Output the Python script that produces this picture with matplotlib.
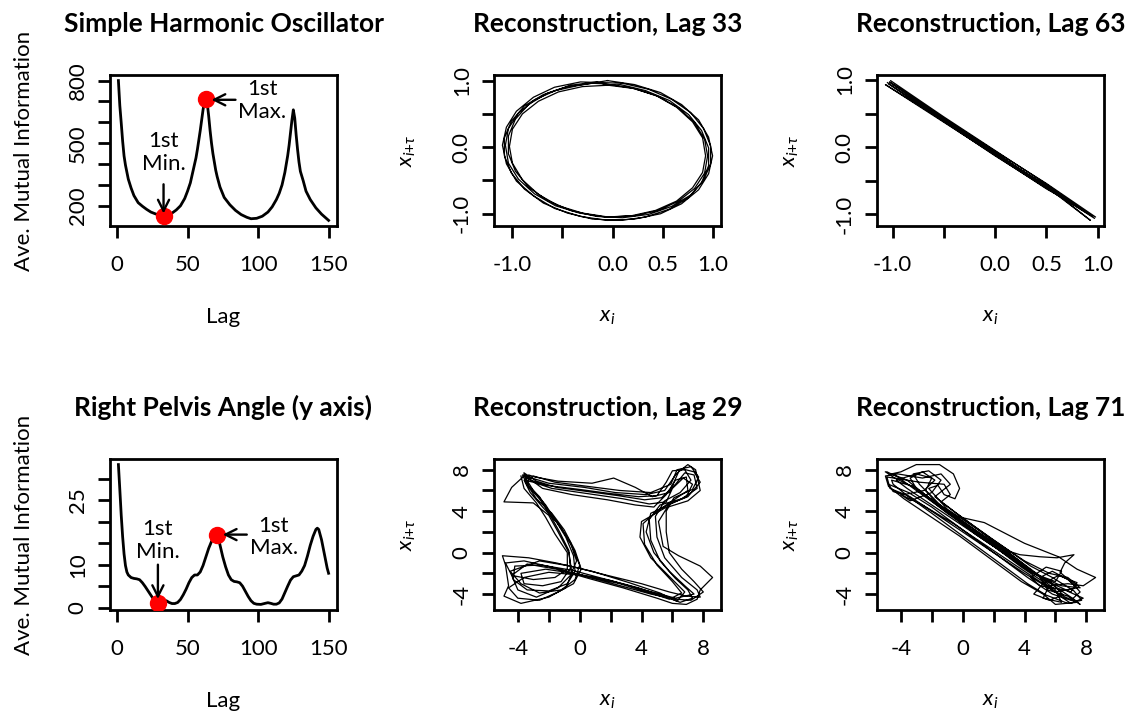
"""Average mutual information and delay reconstructions (SHO vs. pelvis angle)."""

import matplotlib

matplotlib.use("Agg")
import matplotlib.pyplot as plt
import numpy as np

plt.rcParams["font.family"] = ["Lato", "DejaVu Sans"]
plt.rcParams["mathtext.fontset"] = "custom"
plt.rcParams["mathtext.rm"] = "Lato"
plt.rcParams["mathtext.it"] = "Lato:italic"
plt.rcParams["mathtext.bf"] = "Lato:bold"

# ---- AMI curves -------------------------------------------------------------
sho_lag = [1, 2, 3, 4, 5, 6, 8, 10, 12, 15, 18, 21, 24, 27, 30, 33, 36, 39, 42, 45,
           48, 50, 52, 54, 56, 57, 58, 59, 60, 61, 62, 63, 64, 65, 66, 67, 68, 69, 70, 71,
           73, 76, 80, 84, 88, 92, 95, 99, 103, 107, 110, 113, 115, 117, 119, 120, 121, 122, 123, 124,
           125, 126, 127, 128, 129, 130, 132, 134, 137, 141, 145, 150]
sho_ami = [800, 680, 597, 510, 439, 395, 328, 285, 249, 215, 198, 183, 170, 162, 155, 151, 155, 165, 180, 200,
           235, 270, 310, 370, 430, 470, 515, 560, 610, 660, 700, 710, 690, 630, 560, 500, 450, 410, 370, 340,
           290, 240, 205, 178, 158, 145, 138, 140, 150, 170, 195, 230, 260, 300, 360, 400, 440, 490, 550, 610,
           660, 620, 540, 470, 410, 365, 320, 270, 230, 190, 160, 130]

pelvis_lag = [1, 2, 3, 4, 5, 6, 7, 8, 10, 12, 14, 16, 18, 20, 22, 24, 26, 28, 29, 31,
              33, 35, 37, 39, 41, 43, 45, 47, 49, 51, 53, 55, 57, 59, 61, 63, 65, 67, 69, 70,
              71, 72, 73, 75, 77, 79, 81, 83, 85, 87, 89, 91, 93, 95, 97, 99, 102, 105, 107, 109,
              111, 113, 115, 117, 119, 121, 123, 125, 127, 129, 131, 133, 135, 137, 139, 141, 142, 143, 145, 147,
              149, 150]
pelvis_ami = [33.3, 27.5, 21.5, 16.5, 12.5, 9.8, 8.3, 7.6, 7.0, 6.8, 6.7, 6.5, 5.8, 4.9, 3.9, 2.9, 1.9, 1.2, 1.0, 1.2,
              1.6, 1.6, 1.2, 0.95, 0.95, 1.2, 1.9, 3.0, 4.3, 5.8, 7.0, 7.6, 7.6, 8.3, 9.8, 11.8, 13.8, 15.4, 16.6, 17.0,
              17.0, 16.2, 14.6, 11.8, 9.5, 7.6, 6.5, 6.1, 6.0, 5.8, 5.0, 3.8, 2.6, 1.6, 1.0, 0.8, 0.75, 1.0, 1.15, 1.0,
              0.8, 0.8, 1.1, 2.0, 3.5, 5.0, 6.4, 7.2, 7.4, 7.6, 8.5, 9.8, 12.0, 14.5, 16.6, 18.2, 18.5, 18.2, 15.8, 12.5,
              9.2, 8.0]

sho_first_min, sho_first_max = 33, 63
pelvis_first_min, pelvis_first_max = 29, 71

# ---- delay reconstructions (x_i, x_i+tau) ----------------------------------------
sho_lag33_xy = [
    (-0.05, 1.00), (0.22, 0.94), (0.48, 0.82), (0.69, 0.64), (0.86, 0.41), (0.96, 0.15),
    (1.00, -0.13), (0.96, -0.40), (0.86, -0.64), (0.69, -0.85), (0.48, -1.00), (0.22, -1.08),
    (-0.05, -1.10), (-0.32, -1.04), (-0.58, -0.92), (-0.79, -0.73), (-0.96, -0.51), (-1.06, -0.25),
    (-1.10, 0.03), (-1.06, 0.30), (-0.96, 0.54), (-0.79, 0.75), (-0.58, 0.90), (-0.32, 0.98),
    (0.10, 0.96), (0.36, 0.87), (0.59, 0.72), (0.78, 0.52), (0.91, 0.28), (0.98, 0.02),
    (0.98, -0.25), (0.91, -0.50), (0.78, -0.72), (0.59, -0.89), (0.36, -1.01), (0.10, -1.06),
    (-0.16, -1.04), (-0.42, -0.95), (-0.65, -0.80), (-0.84, -0.60), (-0.97, -0.36), (-1.04, -0.10),
    (-1.04, 0.17), (-0.97, 0.42), (-0.84, 0.64), (-0.65, 0.81), (-0.42, 0.93), (-0.16, 0.98),
    (-0.04, 0.93), (0.22, 0.88), (0.46, 0.76), (0.66, 0.59), (0.82, 0.37), (0.92, 0.12),
    (0.95, -0.13), (0.92, -0.39), (0.82, -0.62), (0.66, -0.81), (0.46, -0.95), (0.22, -1.03),
    (-0.04, -1.05), (-0.30, -0.99), (-0.54, -0.88), (-0.74, -0.71), (-0.90, -0.49), (-1.00, -0.24),
    (-1.03, 0.01), (-1.00, 0.27), (-0.90, 0.50), (-0.74, 0.69), (-0.54, 0.83), (-0.30, 0.91),
    (0.08, 0.94), (0.33, 0.85), (0.57, 0.70), (0.76, 0.49), (0.89, 0.25), (0.96, -0.01),
    (0.96, -0.28), (0.89, -0.53), (0.76, -0.76), (0.57, -0.93), (0.33, -1.05), (0.08, -1.10),
    (-0.20, -1.08), (-0.45, -0.99), (-0.69, -0.84), (-0.88, -0.63), (-1.01, -0.39), (-1.08, -0.13),
    (-1.08, 0.14), (-1.01, 0.39), (-0.88, 0.62), (-0.69, 0.79), (-0.45, 0.91), (-0.20, 0.96),
    (-0.07, 0.95), (0.19, 0.89), (0.43, 0.78), (0.64, 0.60), (0.80, 0.38), (0.90, 0.14),
    (0.93, -0.13), (0.90, -0.38), (0.80, -0.61), (0.64, -0.81), (0.43, -0.95), (0.19, -1.03),
    (-0.07, -1.05), (-0.33, -0.99), (-0.57, -0.88), (-0.78, -0.70), (-0.94, -0.48), (-1.04, -0.24),
    (-1.07, 0.03), (-1.04, 0.28), (-0.94, 0.51), (-0.78, 0.71), (-0.57, 0.85), (-0.33, 0.93),
    (-0.05, 1.00),
]

sho_lag63_xy = [
    (-1.05, 0.96), (-0.5, 0.40), (0.0, -0.11), (0.5, -0.60), (0.97, -1.06),
    (0.5, -0.55), (0.0, -0.05), (-0.5, 0.45), (-1.02, 0.99),
    (-0.5, 0.42), (0.0, -0.08), (0.5, -0.59), (0.93, -1.09),
    (0.5, -0.57), (0.0, -0.10), (-0.5, 0.39), (-1.07, 0.93),
    (-0.5, 0.37), (0.0, -0.12), (0.5, -0.62), (0.98, -1.04),
    (0.5, -0.54), (0.0, -0.06), (-0.5, 0.43), (-1.03, 0.97),
    (-0.5, 0.41), (0.0, -0.09), (0.5, -0.58), (0.95, -1.03),
    (0.5, -0.61), (0.0, -0.13), (-0.5, 0.38), (-1.04, 0.94),
]

pelvis_lag29_xy = [
    (-3.6, 7.7), (-2.8, 6.9), (-1.5, 6.3), (0.5, 5.9), (2.5, 5.5), (4.2, 5.1), (5.3, 5.3),
    (6.2, 6.6), (6.8, 7.7), (7.4, 7.5), (7.6, 6.2), (6.6, 5.2), (5.2, 4.6), (4.5, 3.2),
    (4.6, 1.2), (5.2, -0.8), (6.2, -2.5), (7.0, -3.6), (7.3, -4.4), (6.5, -4.8), (5.6, -4.3),
    (3.8, -3.4), (1.5, -2.5), (-0.5, -1.7), (-2.5, -1.2), (-4.2, -1.3), (-4.3, -2.6),
    (-3.4, -3.6), (-2.0, -3.7), (-0.8, -3.0), (-0.3, -1.8), (-0.4, -0.3), (-0.9, 1.5),
    (-1.6, 3.2), (-2.2, 4.6), (-3.0, 6.0), (-3.5, 7.2),
    (-3.3, 7.5), (-2.9, 7.3), (-1.4, 6.9), (0.8, 6.7), (2.2, 7.2), (3.6, 6.3), (4.7, 5.4),
    (5.8, 5.8), (6.4, 7.8), (7.0, 8.5), (7.5, 8.0), (7.8, 6.0), (7.0, 5.0), (5.5, 4.3),
    (4.0, 3.0), (3.9, 1.5), (4.6, -0.5), (5.8, -2.3), (6.8, -3.8), (6.3, -4.7), (5.2, -3.9),
    (3.2, -2.9), (0.8, -1.8), (-1.5, -1.0), (-3.3, -0.5), (-5.0, -0.3), (-4.8, -1.2),
    (-4.6, -3.2), (-4.9, -4.2), (-3.8, -4.9), (-2.0, -4.3), (-0.9, -3.4), (-0.5, -2.0),
    (-0.7, 0.0), (-1.4, 2.0), (-2.0, 3.6), (-3.0, 4.8), (-4.9, 4.9), (-4.4, 6.3), (-3.6, 7.4),
    (-3.2, 7.0), (-2.2, 6.5), (0.0, 6.1), (2.0, 5.7), (3.8, 5.4), (5.0, 5.5), (5.6, 6.8),
    (6.0, 7.9), (6.8, 8.0), (7.2, 7.0), (6.5, 5.8), (5.5, 5.0), (4.9, 3.5), (5.0, 1.5),
    (5.5, -0.5), (6.6, -2.4), (7.6, -3.6), (7.8, -4.3), (6.9, -4.2), (5.8, -3.8), (4.0, -3.0),
    (1.8, -2.2), (-0.6, -1.3), (-2.6, -0.8), (-4.5, -1.8), (-3.8, -3.0), (-2.6, -3.9),
    (-1.2, -3.6), (-0.3, -2.6), (0.0, -1.2), (-0.5, 0.6), (-1.2, 2.4), (-2.0, 4.0),
    (-2.6, 5.4), (-3.4, 6.6), (-3.7, 7.5),
    (-3.1, 7.2), (-2.0, 6.7), (0.3, 6.3), (2.3, 5.8), (4.3, 5.6), (5.5, 6.0), (6.2, 7.5),
    (6.6, 8.1), (7.4, 7.8), (7.8, 6.8), (7.0, 5.4), (5.8, 4.7), (5.1, 3.0), (5.4, 0.6),
    (6.4, -0.3), (7.8, -1.3), (8.6, -2.4), (7.8, -3.6), (7.6, -4.5), (6.9, -5.0), (6.0, -4.9),
    (5.0, -4.4), (2.8, -3.4), (0.6, -2.5), (-1.5, -1.6), (-3.4, -1.1), (-4.4, -2.2),
    (-4.0, -3.6), (-2.8, -4.3), (-1.4, -3.4), (-0.6, -2.2), (-0.2, -0.8), (-0.6, 1.0),
    (-1.4, 2.8), (-2.4, 4.4), (-3.2, 5.8), (-3.6, 7.0),
    (-3.0, 6.8), (-1.8, 6.2), (0.5, 5.7), (2.8, 5.2), (4.5, 4.7), (5.6, 4.9), (6.0, 6.2),
    (6.7, 7.2), (7.3, 6.6), (6.9, 5.4), (5.6, 4.5), (4.6, 3.8), (4.3, 2.0), (4.8, 0.0),
    (5.8, -1.8), (6.8, -3.2), (7.4, -4.0), (6.2, -4.4), (4.4, -3.7), (2.0, -2.7), (-0.4, -2.0),
    (-2.2, -1.6), (-3.8, -2.0), (-3.6, -3.0), (-2.4, -3.2), (-1.2, -2.8), (-0.6, -1.5),
    (-0.7, 0.2), (-1.3, 2.0), (-1.9, 3.6), (-2.5, 5.0), (-3.3, 6.4), (-3.6, 7.6),
    (-3.4, 7.3), (-2.4, 6.2), (-0.5, 5.6), (1.8, 5.1), (3.6, 4.6), (4.8, 4.4), (5.6, 5.6),
    (6.2, 7.0), (6.9, 7.3), (7.0, 6.0), (6.0, 5.0), (5.0, 4.0), (4.1, 2.8), (4.2, 0.8),
    (5.0, -1.2), (6.0, -2.8), (6.6, -3.9), (5.8, -4.5), (4.8, -4.0), (2.6, -3.0), (0.2, -2.2),
    (-2.0, -1.9), (-3.6, -2.4), (-4.6, -3.4), (-4.0, -4.4), (-2.6, -4.6), (-1.4, -3.8),
    (-0.4, -3.0), (0.1, -1.6), (-0.3, 0.2), (-1.0, 2.2), (-1.8, 3.8), (-2.8, 5.2), (-3.5, 6.8),
    (-3.0, 7.4), (-1.6, 6.8), (0.5, 6.4), (2.6, 6.0), (4.6, 5.8), (5.9, 6.6), (6.3, 8.0),
    (7.2, 8.3), (7.7, 7.3), (7.3, 6.1), (6.1, 5.3), (5.6, 4.0), (5.6, 2.0), (5.8, 0.0),
    (6.6, -1.6), (7.4, -2.8), (8.0, -3.8), (7.2, -4.6), (6.2, -4.5), (4.6, -4.0), (2.4, -3.1),
    (0.2, -2.2), (-1.8, -1.4), (-3.6, -0.8), (-4.8, -1.0), (-4.4, -2.2), (-3.0, -2.6),
    (-1.6, -2.4), (-0.8, -1.6), (-0.8, 0.0), (-1.6, 1.8), (-2.2, 3.4), (-2.8, 4.8),
    (-3.6, 6.2), (-3.8, 7.4),
]

pelvis_lag71_xy = [
    (-4.9, 7.8), (-4.2, 7.3), (-3.0, 6.0), (-1.5, 4.4), (0.5, 2.3), (2.5, 0.3), (4.5, -1.8),
    (6.0, -3.3), (7.2, -4.5), (7.6, -5.0), (6.8, -4.2), (5.5, -3.6), (5.0, -2.4), (5.8, -1.8),
    (6.8, -2.6), (7.4, -3.4), (6.0, -3.8), (4.0, -2.0), (2.0, 0.0), (0.0, 2.2), (-2.0, 4.4),
    (-3.5, 5.8), (-4.8, 6.6), (-4.5, 5.9), (-3.8, 5.6), (-2.5, 6.0), (-1.8, 7.0), (-2.6, 7.8),
    (-3.4, 7.2), (-3.0, 6.2), (-1.5, 4.6), (0.5, 2.5), (2.6, 0.2), (4.4, -1.7), (5.8, -3.0),
    (6.5, -4.1), (5.6, -4.6), (4.6, -4.0), (5.2, -3.0), (6.2, -2.2), (7.4, -2.9), (7.0, -3.8),
    (5.5, -2.8), (3.5, -0.6), (1.2, 1.8), (-1.0, 4.0), (-2.6, 5.8), (-3.6, 7.0), (-4.6, 7.6),
    (-4.0, 7.8), (-3.0, 8.5), (-1.5, 8.5), (-0.6, 7.6), (-0.2, 6.2), (-0.5, 5.2), (-1.2, 5.6),
    (-1.6, 6.5), (-2.2, 6.2), (-1.0, 4.2), (1.0, 2.2), (3.0, 0.0), (4.6, -1.9), (6.0, -3.6),
    (6.4, -4.8), (5.2, -4.4), (5.6, -3.2), (6.8, -3.0), (7.8, -3.2), (8.6, -2.4), (7.4, -1.6),
    (6.2, -0.4), (4.0, 0.9), (1.4, 2.9), (-0.4, 3.5), (-1.5, 4.6), (-2.4, 6.0), (-2.0, 7.2),
    (-3.0, 7.6), (-4.3, 7.0), (-3.6, 6.2), (-2.0, 4.6), (0.0, 2.6), (2.0, 0.6), (3.7, -0.2),
    (5.0, -0.4), (6.1, -0.5), (7.2, -0.2), (6.6, -1.0), (6.3, -1.9), (7.0, -2.8), (7.6, -3.8),
    (7.0, -4.6), (5.8, -4.0), (4.2, -2.4), (2.2, -0.2), (0.0, 2.0), (-2.0, 4.0), (-3.4, 5.4),
    (-4.7, 6.2), (-4.9, 7.3), (-4.0, 7.1), (-2.8, 6.8), (-1.2, 6.6), (-0.8, 5.6), (-1.4, 4.9),
    (0.5, 2.8), (2.6, 0.6), (4.4, -1.3), (5.8, -2.4), (7.2, -3.7), (7.7, -4.6), (6.8, -4.9),
    (5.4, -4.1), (4.2, -3.0), (2.2, -0.8), (0.0, 1.6), (-2.0, 3.8), (-3.5, 5.4), (-4.5, 6.6),
    (-4.6, 7.0), (-3.2, 6.4), (-1.0, 3.8), (1.5, 1.2), (3.8, -1.4), (5.2, -2.8), (6.4, -4.3),
    (7.0, -4.9), (7.8, -4.4), (6.6, -3.6), (5.0, -3.2), (4.4, -2.4), (5.4, -1.4), (6.4, -1.8),
    (6.0, -2.8), (4.4, -1.9), (2.4, 0.2), (0.4, 2.4), (-1.6, 4.8), (-2.8, 6.6), (-3.2, 7.6),
    (-2.2, 7.9), (-1.4, 7.0), (-2.0, 5.8), (-3.4, 5.0), (-4.0, 5.6), (-2.6, 4.6), (-0.6, 2.8),
    (1.6, 0.6), (3.4, -1.2), (5.0, -2.8), (6.2, -4.0), (7.4, -4.8), (6.0, -5.0), (5.2, -4.0),
    (3.8, -2.8), (1.8, -0.6), (-0.2, 1.6), (-2.2, 3.6), (-3.8, 5.2), (-4.8, 6.4), (-5.0, 7.4),
    (-4.2, 7.6), (-2.6, 7.2), (-1.4, 7.6), (-0.8, 6.6), (-1.8, 5.4), (-0.4, 3.8), (1.8, 1.4),
    (4.0, -0.8), (5.6, -2.0), (6.8, -2.4), (7.6, -3.4), (6.4, -3.2), (4.8, -2.2), (2.8, -0.2),
    (0.8, 1.8), (-1.2, 4.2), (-3.0, 6.2), (-4.4, 7.2), (-5.0, 7.8),
]

sho_ticks = [0, 50, 100, 150]
sho_yticks = [200, 300, 400, 500, 600, 700, 800]
sho_ylabels = ["200", "", "", "500", "", "", "800"]
pelvis_yticks = [0, 5, 10, 15, 20, 25, 30]
pelvis_ylabels = ["0", "", "10", "", "", "25", ""]
unit_ticks = [-1.0, -0.5, 0.0, 0.5, 1.0]
unit_xlabels = ["-1.0", "", "0.0", "0.5", "1.0"]
unit_ylabels = ["-1.0", "", "0.0", "", "1.0"]
gait_ticks = [-4, -2, 0, 2, 4, 6, 8]
gait_labels = ["-4", "", "0", "", "4", "", "8"]

FIG_W, FIG_H = 1133, 717
BOX_W, BOX_H = 227, 151
COL_LEFT = [110, 494, 877]
ROW_TOP = [75, 459]
TEXT_SIZE = 16
TITLE_SIZE = 19


def r_lim(values):
    lo, hi = min(values), max(values)
    pad = 0.04 * (hi - lo)
    return lo - pad, hi + pad


def make_axes(fig, row, col):
    left = COL_LEFT[col] / FIG_W
    bottom = 1 - (ROW_TOP[row] + BOX_H) / FIG_H
    return fig.add_axes([left, bottom, BOX_W / FIG_W, BOX_H / FIG_H])


def style_axes(ax, title, xticks, xlabels, yticks, ylabels, xlab, ylab):
    ax.set_xticks(xticks, xlabels)
    ax.set_yticks(yticks, ylabels)
    ax.tick_params(direction="out", length=8.5, width=2.0, labelsize=TEXT_SIZE)
    ax.tick_params(axis="x", pad=12.5)
    ax.tick_params(axis="y", pad=7.5)
    plt.setp(ax.get_yticklabels(), rotation=90, va="center")
    for spine in ax.spines.values():
        spine.set_linewidth(2.0)
    ax.set_title(title, fontsize=TITLE_SIZE, fontweight="bold", pad=31)
    ax.text(0.5, -91 / BOX_H, xlab, transform=ax.transAxes, ha="center", va="center",
            fontsize=TEXT_SIZE)
    ax.text(-86 / BOX_W, 0.5, ylab, transform=ax.transAxes, ha="center", va="center",
            rotation=90, fontsize=TEXT_SIZE)


def ami_panel(ax, lags, ami, first_min, first_max, min_text, max_text, min_arrow, max_arrow):
    ax.plot(lags, ami, color="black", lw=2.0, solid_joinstyle="round")
    ax.set_xlim(*r_lim(lags))
    ax.set_ylim(*r_lim(ami))
    for lag in (first_min, first_max):
        ax.plot(lag, ami[lags.index(lag)], "o", color="#ff0000", ms=11.5, zorder=4)
    arrow = dict(arrowstyle="->", color="black", lw=1.7, shrinkA=0, shrinkB=0, mutation_scale=20)
    ax.annotate("", xy=min_arrow[1], xytext=min_arrow[0], arrowprops=arrow, zorder=5)
    ax.annotate("", xy=max_arrow[1], xytext=max_arrow[0], arrowprops=arrow, zorder=5)
    ax.text(*min_text, "1st\nMin.", ha="center", va="center", fontsize=TEXT_SIZE, linespacing=1.15)
    ax.text(*max_text, "1st\nMax.", ha="center", va="center", fontsize=TEXT_SIZE, linespacing=1.15)


def recon_panel(ax, xy):
    pts = np.array(xy)
    ax.plot(pts[:, 0], pts[:, 1], color="black", lw=0.9, solid_joinstyle="round")
    ax.set_xlim(*r_lim(pts[:, 0]))
    ax.set_ylim(*r_lim(pts[:, 1]))


def main() -> None:
    fig = plt.figure(figsize=(FIG_W / 100, FIG_H / 100), dpi=100)
    xi, xit = r"$x_i$", r"$x_{i{+}\tau}$"

    ax = make_axes(fig, 0, 0)
    ami_panel(ax, sho_lag, sho_ami, sho_first_min, sho_first_max,
              (33, 455), (103, 705), ((33, 303), (33, 163)), ((84, 708), (67, 708)))
    style_axes(ax, "Simple Harmonic Oscillator", sho_ticks, sho_ticks, sho_yticks, sho_ylabels,
               "Lag", "Ave. Mutual Information")

    ax = make_axes(fig, 0, 1)
    recon_panel(ax, sho_lag33_xy)
    style_axes(ax, "Reconstruction, Lag 33", unit_ticks, unit_xlabels, unit_ticks, unit_ylabels, xi, xit)

    ax = make_axes(fig, 0, 2)
    recon_panel(ax, sho_lag63_xy)
    style_axes(ax, "Reconstruction, Lag 63", unit_ticks, unit_xlabels, unit_ticks, unit_ylabels, xi, xit)

    ax = make_axes(fig, 1, 0)
    ami_panel(ax, pelvis_lag, pelvis_ami, pelvis_first_min, pelvis_first_max,
              (29, 15.6), (111, 16.5), ((29, 10.0), (29, 2.0)), ((92, 17.0), (75, 17.0)))
    style_axes(ax, "Right Pelvis Angle (y axis)", sho_ticks, sho_ticks, pelvis_yticks, pelvis_ylabels,
               "Lag", "Ave. Mutual Information")

    ax = make_axes(fig, 1, 1)
    recon_panel(ax, pelvis_lag29_xy)
    style_axes(ax, "Reconstruction, Lag 29", gait_ticks, gait_labels, gait_ticks, gait_labels, xi, xit)

    ax = make_axes(fig, 1, 2)
    recon_panel(ax, pelvis_lag71_xy)
    style_axes(ax, "Reconstruction, Lag 71", gait_ticks, gait_labels, gait_ticks, gait_labels, xi, xit)

    fig.savefig("out.png", dpi=100)
    plt.close(fig)


if __name__ == "__main__":
    main()
